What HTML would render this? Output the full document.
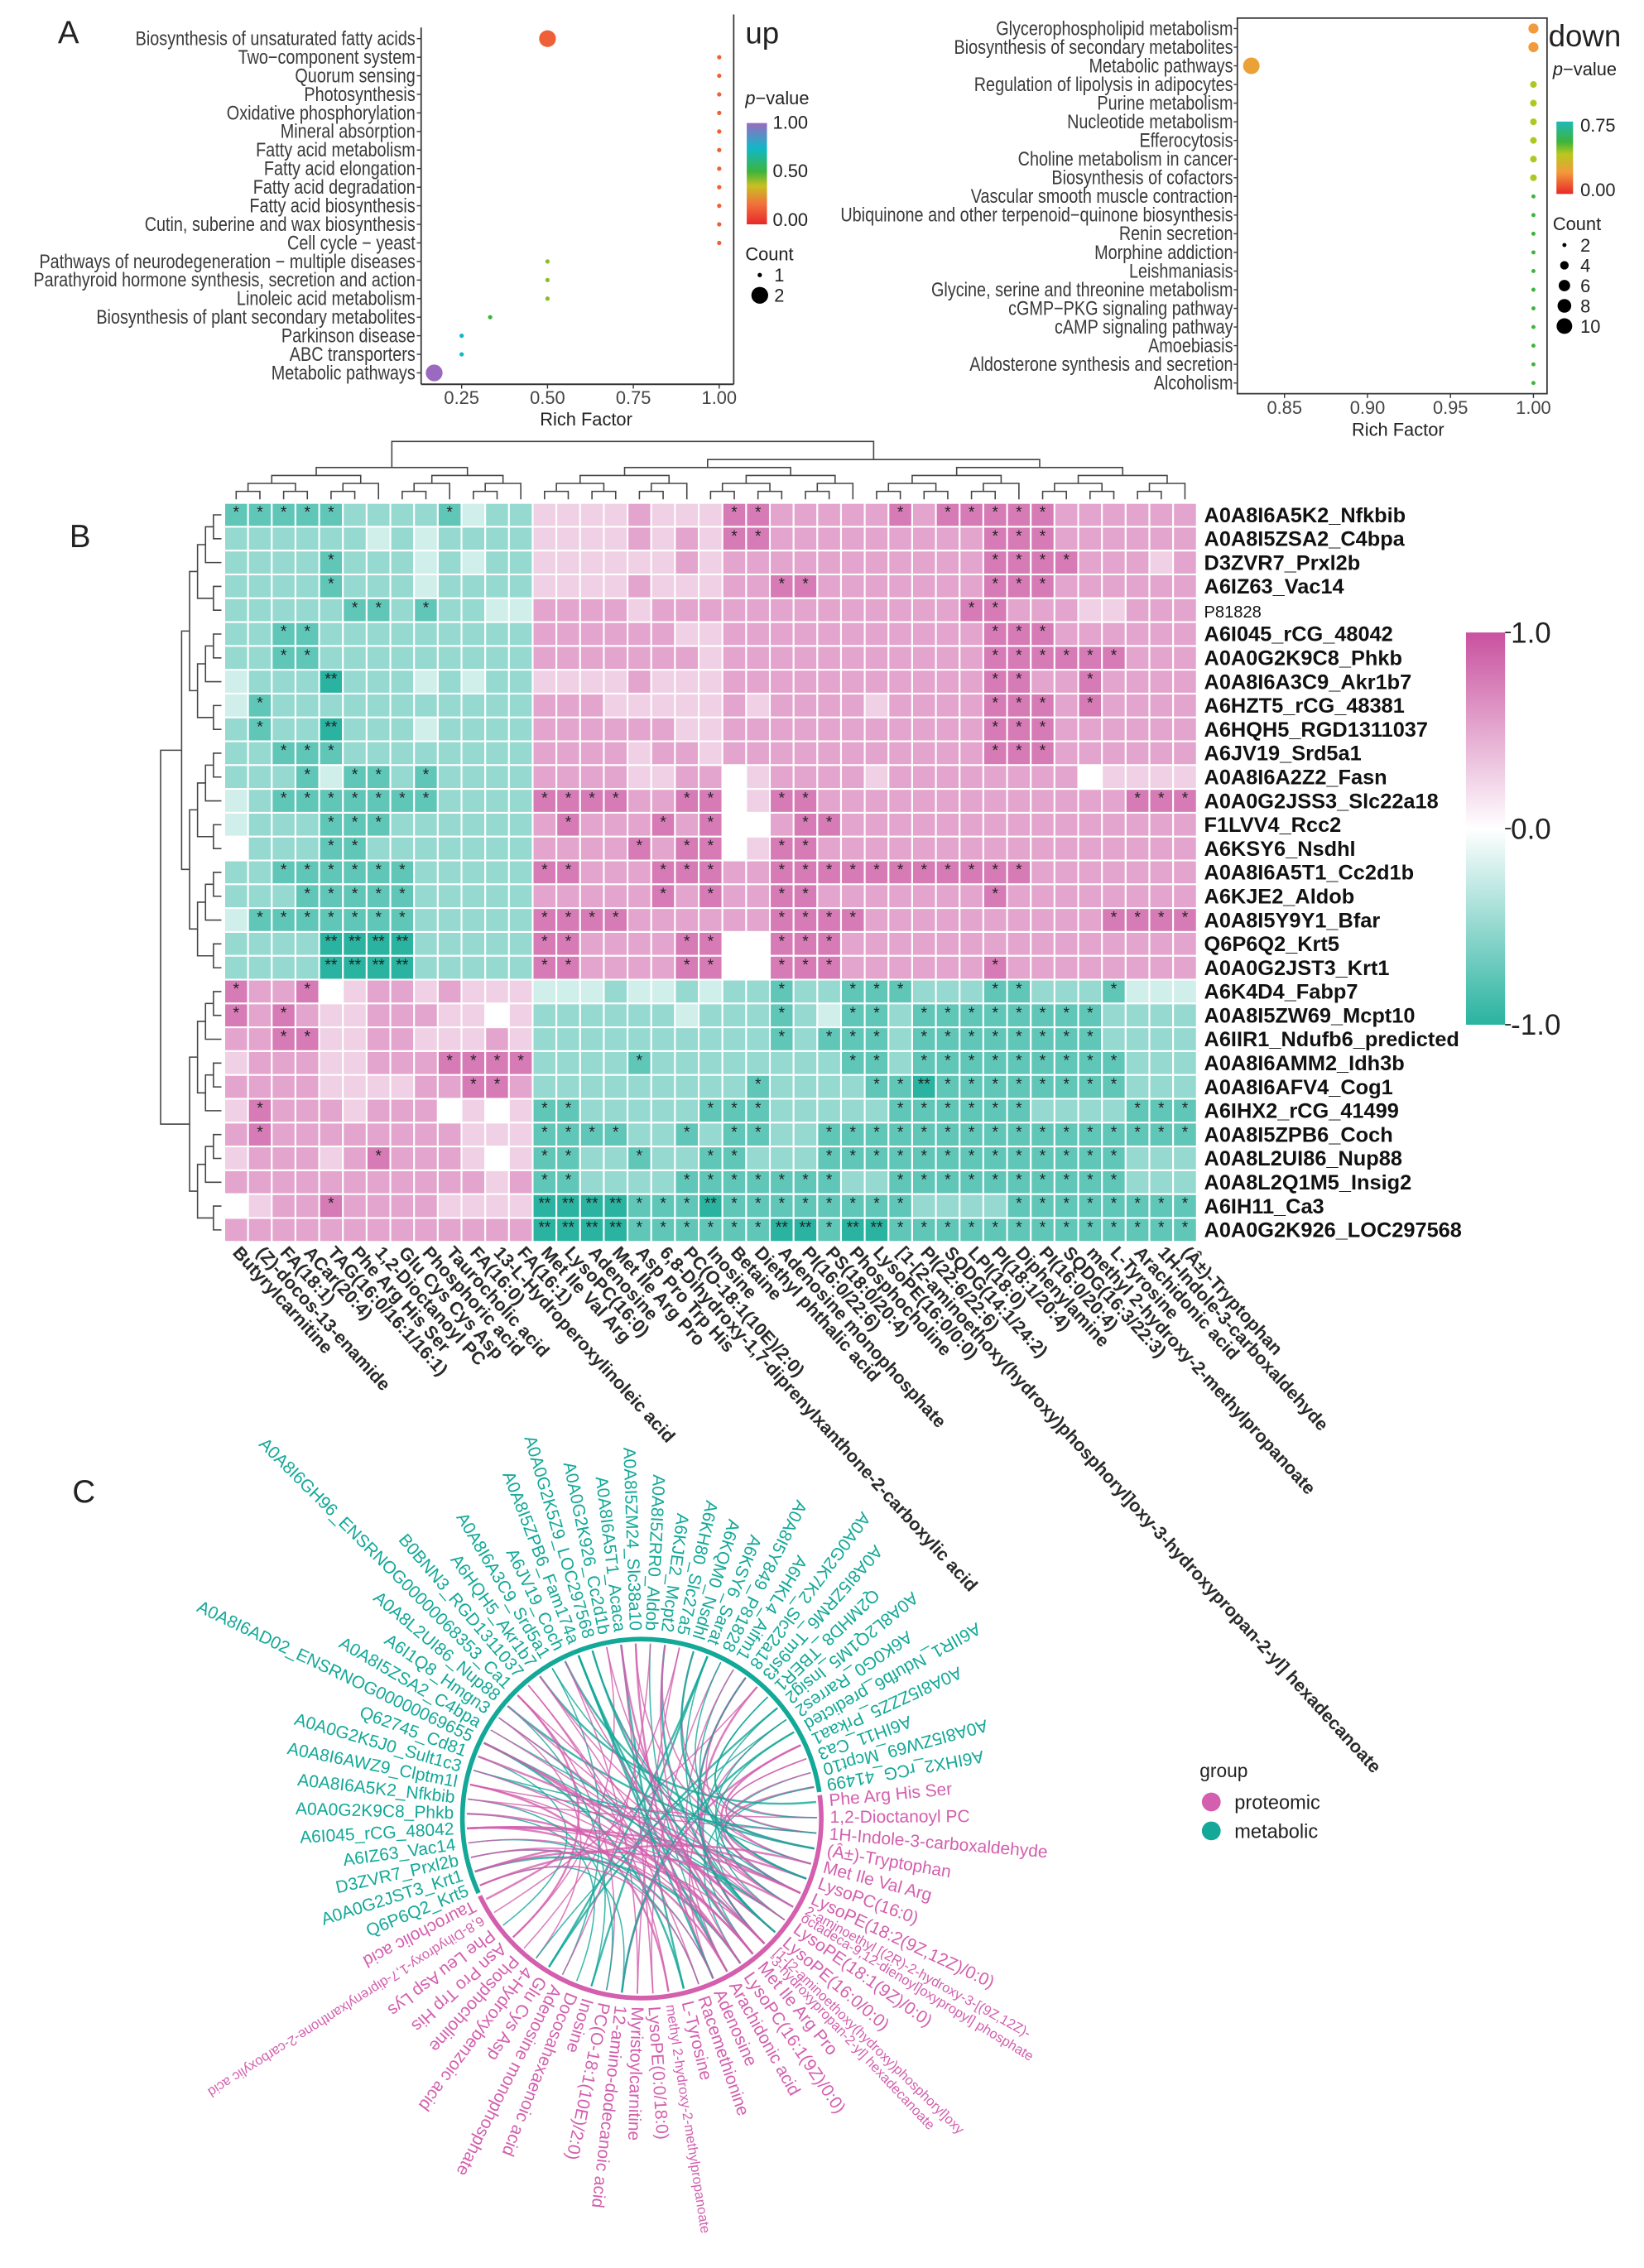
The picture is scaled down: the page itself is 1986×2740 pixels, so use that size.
<!DOCTYPE html>
<html><head><meta charset="utf-8"><title>Figure</title>
<style>
html,body{margin:0;padding:0;background:#fff;}
svg{display:block;}
.n{font-family:"Liberation Sans Narrow","Liberation Sans",sans-serif;}
.s{font-family:"Liberation Sans",sans-serif;}
</style></head>
<body>
<svg id="fig" xmlns="http://www.w3.org/2000/svg" width="1986" height="2740" viewBox="0 0 1136 1567" preserveAspectRatio="none">
<rect x="0" y="0" width="1136" height="1567" fill="#fff"/>
<text x="40" y="30" class="s" font-size="22" fill="#222">A</text>
<text x="48" y="378" class="s" font-size="22" fill="#222">B</text>
<text x="50" y="1038" class="s" font-size="22" fill="#222">C</text>
<defs>
<linearGradient id="gUp" x1="0" y1="1" x2="0" y2="0">
<stop offset="0" stop-color="#e8282a"/><stop offset="0.2" stop-color="#f0723c"/><stop offset="0.38" stop-color="#c8c020"/><stop offset="0.52" stop-color="#3cb43c"/><stop offset="0.75" stop-color="#10b8c8"/><stop offset="1" stop-color="#9b6ac0"/>
</linearGradient>
<linearGradient id="gDn" x1="0" y1="1" x2="0" y2="0">
<stop offset="0" stop-color="#e8282a"/><stop offset="0.3" stop-color="#f39a3a"/><stop offset="0.55" stop-color="#b8c81f"/><stop offset="0.72" stop-color="#3cb43c"/><stop offset="1" stop-color="#20b8b8"/>
</linearGradient>
<linearGradient id="gHm" x1="0" y1="0" x2="0" y2="1">
<stop offset="0" stop-color="#c9519f"/><stop offset="0.5" stop-color="#ffffff"/><stop offset="1" stop-color="#2ab3a0"/>
</linearGradient>
</defs>
<g id="root"></g>
</svg>
<script>
// ---------- Panel A data ----------
const upPathways = ["Biosynthesis of unsaturated fatty acids","Two−component system","Quorum sensing","Photosynthesis","Oxidative phosphorylation","Mineral absorption","Fatty acid metabolism","Fatty acid elongation","Fatty acid degradation","Fatty acid biosynthesis","Cutin, suberine and wax biosynthesis","Cell cycle − yeast","Pathways of neurodegeneration − multiple diseases","Parathyroid hormone synthesis, secretion and action","Linoleic acid metabolism","Biosynthesis of plant secondary metabolites","Parkinson disease","ABC transporters","Metabolic pathways"];
const upRich = [0.5,1,1,1,1,1,1,1,1,1,1,1,0.5,0.5,0.5,0.333,0.25,0.25,0.17];
const upPval = [0.15,0.15,0.15,0.15,0.15,0.15,0.15,0.15,0.15,0.15,0.15,0.15,0.44,0.44,0.44,0.52,0.75,0.75,1.0];
const upCount = [2,1,1,1,1,1,1,1,1,1,1,1,1,1,1,1,1,1,2];
const upTicks = [0.25,0.5,0.75,1.0];
const upTickLabels = ["0.25","0.50","0.75","1.00"];

const dnPathways = ["Glycerophospholipid metabolism","Biosynthesis of secondary metabolites","Metabolic pathways","Regulation of lipolysis in adipocytes","Purine metabolism","Nucleotide metabolism","Efferocytosis","Choline metabolism in cancer","Biosynthesis of cofactors","Vascular smooth muscle contraction","Ubiquinone and other terpenoid−quinone biosynthesis","Renin secretion","Morphine addiction","Leishmaniasis","Glycine, serine and threonine metabolism","cGMP−PKG signaling pathway","cAMP signaling pathway","Amoebiasis","Aldosterone synthesis and secretion","Alcoholism"];
const dnRich = [1,1,0.83,1,1,1,1,1,1,1,1,1,1,1,1,1,1,1,1,1];
const dnPval = [0.3,0.3,0.34,0.56,0.56,0.56,0.56,0.56,0.56,0.72,0.72,0.72,0.72,0.72,0.72,0.72,0.72,0.72,0.72,0.72];
const dnCount = [5,5,11,3,3,3,3,3,3,2,2,2,2,2,2,2,2,2,2,2];
const dnTicks = [0.85,0.9,0.95,1.0];
const dnTickLabels = ["0.85","0.90","0.95","1.00"];
const dnCountLegend = [2,4,6,8,10];

// ---------- Panel B data ----------
const rowNames = ["A0A8I6A5K2_Nfkbib","A0A8I5ZSA2_C4bpa","D3ZVR7_Prxl2b","A6IZ63_Vac14","P81828","A6I045_rCG_48042","A0A0G2K9C8_Phkb","A0A8I6A3C9_Akr1b7","A6HZT5_rCG_48381","A6HQH5_RGD1311037","A6JV19_Srd5a1","A0A8I6A2Z2_Fasn","A0A0G2JSS3_Slc22a18","F1LVV4_Rcc2","A6KSY6_Nsdhl","A0A8I6A5T1_Cc2d1b","A6KJE2_Aldob","A0A8I5Y9Y1_Bfar","Q6P6Q2_Krt5","A0A0G2JST3_Krt1","A6K4D4_Fabp7","A0A8I5ZW69_Mcpt10","A6IIR1_Ndufb6_predicted","A0A8I6AMM2_Idh3b","A0A8I6AFV4_Cog1","A6IHX2_rCG_41499","A0A8I5ZPB6_Coch","A0A8L2UI86_Nup88","A0A8L2Q1M5_Insig2","A6IH11_Ca3","A0A0G2K926_LOC297568"];
const colNames = ["Butyrylcarnitine","(Z)-docos-13-enamide","FA(18:1)","ACar(20:4)","TAG(16:0/16:1/16:1)","Phe Arg His Ser","1,2-Dioctanoyl PC","Glu Cys Cys Asp","Phosphoric acid","Taurocholic acid","FA(16:0)","13-L-Hydroperoxylinoleic acid","FA(16:1)","Met Ile Val Arg","LysoPC(16:0)","Adenosine","Met Ile Arg Pro","Asp Pro Trp His","6,8-Dihydroxy-1,7-diprenylxanthone-2-carboxylic acid","PC(O-18:1(10E)/2:0)","Inosine","Betaine","Diethyl phthalic acid","Adenosine monophosphate","PI(16:0/22:6)","PS(18:0/20:4)","Phosphocholine","LysoPE(16:0/0:0)","[1-[2-aminoethoxy(hydroxy)phosphoryl]oxy-3-hydroxypropan-2-yl] hexadecanoate","PI(22:6/22:6)","SQDG(14:1/24:2)","LPI(18:0)","PI(18:1/20:4)","Diphenylamine","PI(16:0/20:4)","SQDG(16:3/22:3)","methyl 2-hydroxy-2-methylpropanoate","L-Tyrosine","Arachidonic acid","1H-Indole-3-carboxaldehyde","(Â±)-Tryptophan"];
// correlation level per cell: 0 = -1 (teal) ... 4 = 0 (white) ... 8 = +1 (pink)
const corrLevels = [
"1111122221322"+"5555655577666667677777666666",
"2222223232222"+"5555656577666666666777666666",
"2222122232322"+"5555556566666666666777766656",
"2222122232222"+"5555655566776666666777666666",
"2222211212233"+"6666566666666666667766655666",
"2211222222222"+"6666665566666666666777666666",
"2211222222222"+"6666666566666666666777777666",
"3222022232322"+"5555655566666666666776676666",
"3122222222222"+"6665555565666656666777676666",
"2122022232222"+"6666665566666666666777666666",
"2211122222222"+"6666566566666666666777666666",
"2221311212222"+"6666556645666656666666645555",
"3211111112222"+"7777667745776666666666666777",
"3222111222222"+"6766676744677666666666666666",
"4222112222222"+"6666767745776666666666666666",
"2211111122222"+"7766677766777777777776666666",
"2221111122222"+"6666676766776666666766666666",
"3111111122222"+"7777666666777766666666667777",
"2222000022222"+"7766667744777666666666666666",
"2222000022222"+"7766667744777666666766666666",
"7667456656555"+"3332332322122111222112221333",
"7676556665545"+"2222223222123112111111112222",
"6677556655565"+"2222222222121112111111112222",
"5666556667777"+"2222122222222112111111111222",
"6666555566776"+"2222222221222211011111111222",
"5766656664545"+"1122222111222221111112222111",
"6766666666555"+"1111221211221111111111111111",
"5666567666545"+"1122122112221111111111111222",
"6666666666656"+"1122221111111221111111111222",
"4566766665555"+"0000111011111111222211111111",
"6666666666666"+"0000111111001001111111111111"];
const levelValues = [-1,-0.75,-0.5,-0.22,0,0.27,0.52,0.76,1];
const hmTickLabels = ["1.0","0.0","-1.0"];
const hmTickValues = [1,0,-1];

// ---------- Panel C data ----------
const tealNodes = ["A6IHX2_rCG_41499","A0A8I5ZW69_Mcpt10","A6IH11_Ca3","A0A8I5ZZZ5_Prkaa1","A6IIR1_Ndufb6_predicted","A6K0G0_Rarres2","A0A8L2Q1M5_Insig2","Q2MHD8_TBER1","A0A8I5ZRM6_Tm9sf3","A0A0G2K7K2_Slc22a18","A6HKL4_Aifm1","A0A8I5Y849_P81828","A6KSY6_Sarat","A6KQM0_Nsdhl","A6KH80_Slc27a5","A6KJE2_Mcpt2","A0A8I5ZRR0_Aldob","A0A8I5ZM24_Slc38a10","A0A8I6A5T1_Acaca","A0A0G2K926_Cc2d1b","A0A0G2K5Z9_LOC297568","A0A8I5ZPB6_Fam174a","A6JV19_Coch","A0A8I6A3C9_Srd5a1","A6HQH5_Akr1b7","B0BNN3_RGD1311037","A0A8I6GH96_ENSRNOG00000068353_Ca1","A0A8L2UI86_Nup88","A6I1Q8_Hmgn3","A0A8I5ZSA2_C4bpa","A0A8I6AD02_ENSRNOG00000069655","Q62745_Cd81","A0A0G2K5J0_Sult1c3","A0A8I6AWZ9_Clptm1l","A0A8I6A5K2_Nfkbib","A0A0G2K9C8_Phkb","A6I045_rCG_48042","A6IZ63_Vac14","D3ZVR7_Prxl2b","A0A0G2JST3_Krt1","Q6P6Q2_Krt5"];
const pinkNodes = ["Phe Arg His Ser","1,2-Dioctanoyl PC","1H-Indole-3-carboxaldehyde","(Â±)-Tryptophan","Met Ile Val Arg","LysoPC(16:0)","LysoPE(18:2(9Z,12Z)/0:0)","2-aminoethyl [(2R)-2-hydroxy-3-[(9Z,12Z)-|octadeca-9,12-dienoyl]oxypropyl] phosphate","LysoPE(18:1(9Z)/0:0)","LysoPE(16:0/0:0)","[1-[2-aminoethoxy(hydroxy)phosphoryl]oxy|-3-hydroxypropan-2-yl] hexadecanoate","Met Ile Arg Pro","LysoPC(16:1(9Z)/0:0)","Arachidonic acid","Adenosine","Racemethionine","L-Tyrosine","methyl 2-hydroxy-2-methylpropanoate","LysoPE(0:0/18:0)","Myristoylcarnitine","12-amino-dodecanoic acid","PC(O-18:1(10E)/2:0)","Inosine","Docosahexaenoic acid","Adenosine monophosphate","Glu Cys Asp","4-Hydroxybenzoic acid","Phosphocholine","Asn Pro Trp His","Phe Leu Asp Lys","6,8-Dihydroxy-1,7-diprenylxanthone-2-carboxylic acid","Taurocholic acid"];
const linkFrom = [0,1,2,3,4,5,6,7,8,9,10,11,12,13,14,15,16,17,18,19,20,21,22,23,24,25,26,27,28,29,30,31,32,33,34,35,36,37,38,39,40,0,3,6,9,12,15,18,21,24,27,30,33,36,39,2,5,8,11,14,17,20,23,26,29,32,35,38,1,4,7,10,13,16,19,22,25,28,31,34,37,40,5,12,18,24,30,36,9,15,21,27,33,39,26,28,30,32,34,36,38,40,20,22];
const linkTo = [5,12,3,20,8,14,25,2,30,10,6,18,22,1,27,9,13,4,16,28,7,11,19,24,0,15,21,3,26,6,12,29,8,17,2,23,5,14,10,31,20,9,6,11,4,25,2,18,13,7,22,16,1,8,12,3,26,10,5,19,14,6,4,28,9,2,11,15,7,20,1,13,5,24,8,3,17,10,6,21,12,4,7,9,11,13,8,6,10,12,14,9,11,7,8,9,10,11,12,13,14,15,9,10];
const linkType = "PTPPTPTTPPTPTPPTTPTPPTPTTPPTPTPTTPPTPTPPTTPTPTPPTPTTPPTPTPTPPTTPPTPTPTTPTPPTPTPTPPTTPPTPTPTPPPPPPPPPP";

// ---------- helpers ----------
const NS = "http://www.w3.org/2000/svg";
const root = document.getElementById("root");
function el(tag, attrs, parent){
  const e = document.createElementNS(NS, tag);
  for (const k in attrs) e.setAttribute(k, attrs[k]);
  (parent || root).appendChild(e);
  return e;
}
function hex2rgb(h){return [parseInt(h.substr(1,2),16),parseInt(h.substr(3,2),16),parseInt(h.substr(5,2),16)];}
function mix(a,b,t){const A=hex2rgb(a),B=hex2rgb(b);return "rgb("+A.map((v,i)=>Math.round(v+(B[i]-v)*t)).join(",")+")";}
function rampColor(stops, v){
  for (let i=1;i<stops.length;i++){ if (v<=stops[i][0]){const t=(v-stops[i-1][0])/(stops[i][0]-stops[i-1][0]);return mix(stops[i-1][1],stops[i][1],t);} }
  return stops[stops.length-1][1];
}
const upStops = [[0,"#e8282a"],[0.2,"#f0723c"],[0.38,"#c8c020"],[0.52,"#3cb43c"],[0.75,"#10b8c8"],[1,"#9b6ac0"]];
const dnStops = [[0,"#e8282a"],[0.3,"#f39a3a"],[0.55,"#b8c81f"],[0.72,"#3cb43c"],[1,"#20b8b8"]];

// ---------- Panel A left (up) ----------
const gUp = el("g",{});


const xUp = v => 319 + (v-0.25)*237.3;
const yUp = i => 26.7 + i*12.83;
const rUp = c => Math.sqrt(2.25 + (c-1)*31.4);
let ln = el("line",{x1:291,y1:19,x2:291,y2:265.5,stroke:"#333","stroke-width":1},gUp);


ln = el("line",{x1:291,y1:265.5,x2:507,y2:265.5,stroke:"#333","stroke-width":1.2},gUp);


ln = el("line",{x1:507,y1:10,x2:507,y2:265.5,stroke:"#333","stroke-width":1},gUp);


upPathways.forEach((p,i)=>{
  const t = el("text",{x:0,y:0,transform:"translate(287,"+(yUp(i)+4.5)+") scale(0.84,1)","text-anchor":"end","font-size":13.5,fill:"#3a3a3a",class:"n"},gUp);
  t.textContent = p;
  
  
  const tk = el("line",{x1:288,x2:291,y1:yUp(i),y2:yUp(i),stroke:"#333","stroke-width":0.8},gUp);
  
  
  const c = el("circle",{cx:xUp(upRich[i]),cy:yUp(i),r:rUp(upCount[i]),fill:rampColor(upStops,upPval[i])},gUp);
  
  
});
upTicks.forEach((v,i)=>{
  const tk = el("line",{x1:xUp(v),x2:xUp(v),y1:265.5,y2:268.5,stroke:"#333","stroke-width":0.8},gUp);
  
  
  const t = el("text",{x:xUp(v),y:279,"text-anchor":"middle","font-size":12.5,fill:"#444",class:"n"},gUp);
  t.textContent = upTickLabels[i];
  
  
});
let tt = el("text",{x:405,y:294,"text-anchor":"middle","font-size":12.5,fill:"#222",class:"n"},gUp);
tt.textContent = "Rich Factor";


tt = el("text",{x:515,y:30,"font-size":21,fill:"#222",class:"s"},gUp);
tt.textContent = "up";


tt = el("text",{x:515,y:72,"font-size":12.5,fill:"#222",class:"n"},gUp);
tt.innerHTML = '<tspan font-style="italic">p</tspan>−value';


let rc = el("rect",{x:516,y:85,width:14,height:70,fill:"url(#gUp)"},gUp);


[["1.00",89],["0.50",122.5],["0.00",156]].forEach(a=>{
  const t = el("text",{x:534,y:a[1],"font-size":12.5,fill:"#222",class:"n"},gUp);
  t.textContent = a[0];
  
  
});
tt = el("text",{x:515,y:180,"font-size":12.5,fill:"#222",class:"n"},gUp);
tt.textContent = "Count";


[[1,190],[2,204]].forEach(a=>{
  const c = el("circle",{cx:525,cy:a[1],r:rUp(a[0]),fill:"#000"},gUp);
  
  
  const t = el("text",{x:535,y:a[1]+4.5,"font-size":12.5,fill:"#222",class:"n"},gUp);
  t.textContent = String(a[0]);
  
  
});

// ---------- Panel A right (down) ----------
const gDn = el("g",{});


const xDn = v => 887.6 + (v-0.85)*1146.7;
const yDn = i => 19.7 + i*12.89;
const rDn = c => Math.sqrt(1.96 + (c-2)*3.4);
rc = el("rect",{x:855,y:12.5,width:214,height:259.5,fill:"none",stroke:"#333","stroke-width":1},gDn);


dnPathways.forEach((p,i)=>{
  const t = el("text",{x:0,y:0,transform:"translate(852,"+(yDn(i)+4.5)+") scale(0.84,1)","text-anchor":"end","font-size":13.5,fill:"#3a3a3a",class:"n"},gDn);
  t.textContent = p;
  
  
  const tk = el("line",{x1:852.5,x2:855,y1:yDn(i),y2:yDn(i),stroke:"#333","stroke-width":0.8},gDn);
  
  
  const c = el("circle",{cx:xDn(dnRich[i]),cy:yDn(i),r:rDn(dnCount[i]),fill:rampColor(dnStops,dnPval[i])},gDn);
  
  
});
dnTicks.forEach((v,i)=>{
  const tk = el("line",{x1:xDn(v),x2:xDn(v),y1:272,y2:275,stroke:"#333","stroke-width":0.8},gDn);
  
  
  const t = el("text",{x:xDn(v),y:286,"text-anchor":"middle","font-size":12.5,fill:"#444",class:"n"},gDn);
  t.textContent = dnTickLabels[i];
  
  
});
tt = el("text",{x:966,y:301,"text-anchor":"middle","font-size":12.5,fill:"#222",class:"n"},gDn);
tt.textContent = "Rich Factor";


tt = el("text",{x:1070,y:32,"font-size":21,fill:"#222",class:"s"},gDn);
tt.textContent = "down";


tt = el("text",{x:1073,y:52,"font-size":12.5,fill:"#222",class:"n"},gDn);
tt.innerHTML = '<tspan font-style="italic">p</tspan>−value';


rc = el("rect",{x:1075.5,y:84,width:11.5,height:50,fill:"url(#gDn)"},gDn);


[["0.75",91],["0.00",135.5]].forEach(a=>{
  const t = el("text",{x:1092,y:a[1],"font-size":12.5,fill:"#222",class:"n"},gDn);
  t.textContent = a[0];
  
  
});
tt = el("text",{x:1073,y:159,"font-size":12.5,fill:"#222",class:"n"},gDn);
tt.textContent = "Count";


dnCountLegend.forEach((c,i)=>{
  const y = 169.3 + i*14;
  const d = el("circle",{cx:1081,cy:y,r:rDn(c),fill:"#000"},gDn);
  
  
  const t = el("text",{x:1092,y:y+4.5,"font-size":12.5,fill:"#222",class:"n"},gDn);
  t.textContent = String(c);
  
  
});

// ---------- Panel B heatmap ----------
const gHm = el("g",{});


const hx0 = 155, hy0 = 347.5, cw = (827-155)/41, ch = (858-347.5)/31;
function hmColor(v){ return v<0 ? mix("#ffffff","#2ab3a0",-v) : mix("#ffffff","#c9519f",v); }
corrLevels.forEach((row,r)=>{
  for (let c=0;c<41;c++){
    const lv = parseInt(row.charAt(Math.min(c,row.length-1)),10);
    const v = levelValues[lv];
    const cell = el("rect",{x:hx0+c*cw,y:hy0+r*ch,width:cw,height:ch,fill:hmColor(v),stroke:"#fff","stroke-width":1.2},gHm);
    
    
    const st = lv===0||lv===8 ? "**" : (lv===7||lv===1 ? "*" : "");
    if (st){
      const s = el("text",{x:hx0+(c+0.5)*cw,y:hy0+r*ch+10,"text-anchor":"middle","font-size":11,fill:"#222",class:"s"},gHm);
      s.textContent = st;
      
      
    }
  }
});
rowNames.forEach((n,r)=>{
  const small = n==="P81828";
  const t = el("text",{x:832,y:hy0+(r+0.5)*ch+5,"font-size":small?11.5:14.5,"font-weight":small?"normal":"bold",fill:"#111",class:"s"},gHm);
  t.textContent = n;
  
  
});
colNames.forEach((n,c)=>{
  const x = hx0+(c+0.5)*cw;
  const t = el("text",{x:0,y:0,transform:"translate("+(x-3)+",866) rotate(47.5)","font-size":12.5,"font-weight":"bold",fill:"#2a2a2a",class:"s"},gHm);
  t.textContent = n;
  
  
});
// dendrograms (structure only)
function build(lo,hi){ if(lo===hi) return {leaf:lo,h:0}; const m=Math.floor((lo+hi)/2); const a=build(lo,m), b=build(m+1,hi); return {kids:[a,b],h:Math.max(a.h,b.h)+1}; }
function drawTree(node, pos, hgt, horiz, name){
  if (node.leaf!==undefined) return pos(node.leaf);
  const p1 = drawTree(node.kids[0],pos,hgt,horiz,name), p2 = drawTree(node.kids[1],pos,hgt,horiz,name);
  const h = hgt(node.h), h1 = node.kids[0].leaf!==undefined?hgt(0):hgt(node.kids[0].h), h2 = node.kids[1].leaf!==undefined?hgt(0):hgt(node.kids[1].h);
  const d = horiz ? "M"+h1+","+p1+"H"+h+"V"+p2+"H"+h2 : "M"+p1+","+h1+"V"+h+"H"+p2+"V"+h2;
  const pth = el("path",{d:d,fill:"none",stroke:"#444","stroke-width":0.9},gHm);
  
  
  return (p1+p2)/2;
}
const topTree = {kids:[build(0,12),build(13,40)],h:9};
drawTree(topTree, i=>hx0+(i+0.5)*cw, h=>h===9?305:345-h*5.5, false, "column-dendrogram");
const leftTree = {kids:[build(0,19),build(20,30)],h:9};
drawTree(leftTree, i=>hy0+(i+0.5)*ch, h=>h===9?111:153-h*5.5, true, "row-dendrogram");
rc = el("rect",{x:1013,y:437,width:27,height:271,fill:"url(#gHm)"},gHm);


hmTickValues.forEach((v,i)=>{
  const y = 437 + (1-v)/2*271;
  const tk = el("line",{x1:1040,x2:1044,y1:y,y2:y,stroke:"#222","stroke-width":1},gHm);
  
  
  const t = el("text",{x:1044,y:y+7,"font-size":20,fill:"#222",class:"s"},gHm);
  t.textContent = hmTickLabels[i];
  
  
});

// ---------- Panel C chord ----------
const gC = el("g",{});


const cx = 443.5, cy = 1256.5, R = 124;
const TEAL = "#13a898", PINK = "#d35fae";
const tealAng = i => 8 + 4.8*(i+0.5);
const pinkAng = i => 8 - 5.1*(i+0.5);
const pt = (deg, r) => [cx + r*Math.cos(deg*Math.PI/180), cy - r*Math.sin(deg*Math.PI/180)];
function arc(a1,a2,r){ const p1=pt(a1,r),p2=pt(a2,r); const large=Math.abs(a2-a1)>180?1:0; return "M"+p1[0]+","+p1[1]+" A"+r+","+r+" 0 "+large+",0 "+p2[0]+","+p2[1]; }
let a = el("path",{d:arc(8.5,204.5,R),fill:"none",stroke:TEAL,"stroke-width":3.2},gC);


a = el("path",{d:arc(205.5,367.5,R),fill:"none",stroke:PINK,"stroke-width":3.2},gC);


linkFrom.forEach((f,k)=>{
  const p1 = pt(tealAng(f), R-3), p2 = pt(pinkAng(linkTo[k] % pinkNodes.length), R-3);
  const col = linkType.charAt(k % linkType.length)==="P" ? PINK : TEAL;
  const l = el("path",{d:"M"+p1[0]+","+p1[1]+" Q"+cx+","+cy+" "+p2[0]+","+p2[1],fill:"none",stroke:col,"stroke-width":k%3===0?1.4:0.9,opacity:0.8},gC);
  
  
});
tealNodes.forEach((n,i)=>{
  const ang = tealAng(i), p = pt(ang, R+6);
  const t = el("text",{x:0,y:0,transform:"translate("+p[0]+","+p[1]+") rotate("+(180-ang)+")","text-anchor":"end","dominant-baseline":"central","font-size":12,fill:TEAL,class:"s"},gC);
  t.textContent = n;
  
  
});
pinkNodes.forEach((n,i)=>{
  const ang = pinkAng(i);
  const parts = n.split("|");
  parts.forEach((part,j)=>{
    const aa = ang + (parts.length>1 ? (j===0?1.2:-1.2) : 0);
    const p = pt(aa, R+6);
    const small = parts.length>1 || n.length>30;
    const t = el("text",{x:0,y:0,transform:"translate("+p[0]+","+p[1]+") rotate("+(-aa)+")","text-anchor":"start","dominant-baseline":"central","font-size":small?9.5:12,fill:PINK,class:"s"},gC);
    t.textContent = part;
    
    
  });
});
tt = el("text",{x:829,y:1228,"font-size":13,fill:"#222",class:"s"},gC);
tt.textContent = "group";


[["proteomic",PINK,1245],["metabolic",TEAL,1265]].forEach(g=>{
  const c = el("circle",{cx:837,cy:g[2],r:6.5,fill:g[1]},gC);
  
  
  const t = el("text",{x:853,y:g[2]+5,"font-size":13.5,fill:"#222",class:"s"},gC);
  t.textContent = g[0];
  
  
});
</script>
</body></html>
